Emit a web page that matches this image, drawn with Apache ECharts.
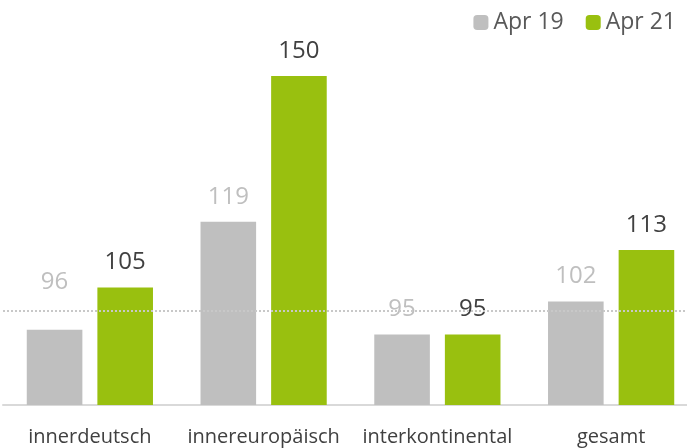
<!DOCTYPE html>
<html><head><meta charset="utf-8">
<script src="https://cdn.jsdelivr.net/npm/echarts@6/dist/echarts.min.js"></script>
<style>html,body{margin:0;padding:0;background:#fff;overflow:hidden}#c{width:698px;height:448px}</style>
</head><body><div id="c"></div>
<script>
const categories = ['innerdeutsch', 'innereuropäisch', 'interkontinental', 'gesamt'];
const apr19 = [96, 119, 95, 102];
const apr21 = [105, 150, 95, 113];
const referenceValue = 100;
const seriesNames = ['Apr 19', 'Apr 21'];

const font = '"Open Sans", "Noto Sans", sans-serif';
const chart = echarts.init(document.getElementById('c'), null, {renderer: 'canvas'});
chart.setOption({
  animation: false,
  legend: {
    right: 17, top: 6, itemWidth: 15, itemHeight: 15, itemGap: 22,
    textStyle: {fontFamily: font, fontSize: 23, color: '#595959'},
    data: seriesNames
  },
  grid: {left: 3, right: 0, top: 29, bottom: 43},
  xAxis: {
    type: 'category', data: categories,
    axisLine: {lineStyle: {color: '#d9d9d9', width: 2}},
    axisTick: {show: false},
    axisLabel: {interval: 0, fontFamily: font, fontSize: 20, color: '#404040', margin: 22}
  },
  yAxis: {type: 'value', min: 80, max: 160, show: false, splitLine: {show: false}},
  series: [
    {
      name: seriesNames[0], type: 'bar', barWidth: '32%', barGap: '27%',
      itemStyle: {color: '#bfbfbf'},
      label: {show: true, position: 'top', distance: 13, fontFamily: font, fontSize: 24, color: '#bfbfbf'},
      data: apr19.map((v, i) => i === 0 ? {value: v, label: {offset: [0, -23]}} : v),
      markLine: {
        silent: true, symbol: 'none', label: {show: false},
        lineStyle: {color: '#c8c8c8', type: 'dotted', width: 2},
        data: [{yAxis: referenceValue}]
      }
    },
    {
      name: seriesNames[1], type: 'bar', barWidth: '32%',
      itemStyle: {color: '#99c00f'},
      label: {show: true, position: 'top', distance: 13, fontFamily: font, fontSize: 24, color: '#404040'},
      data: apr21
    }
  ]
});
</script></body></html>
